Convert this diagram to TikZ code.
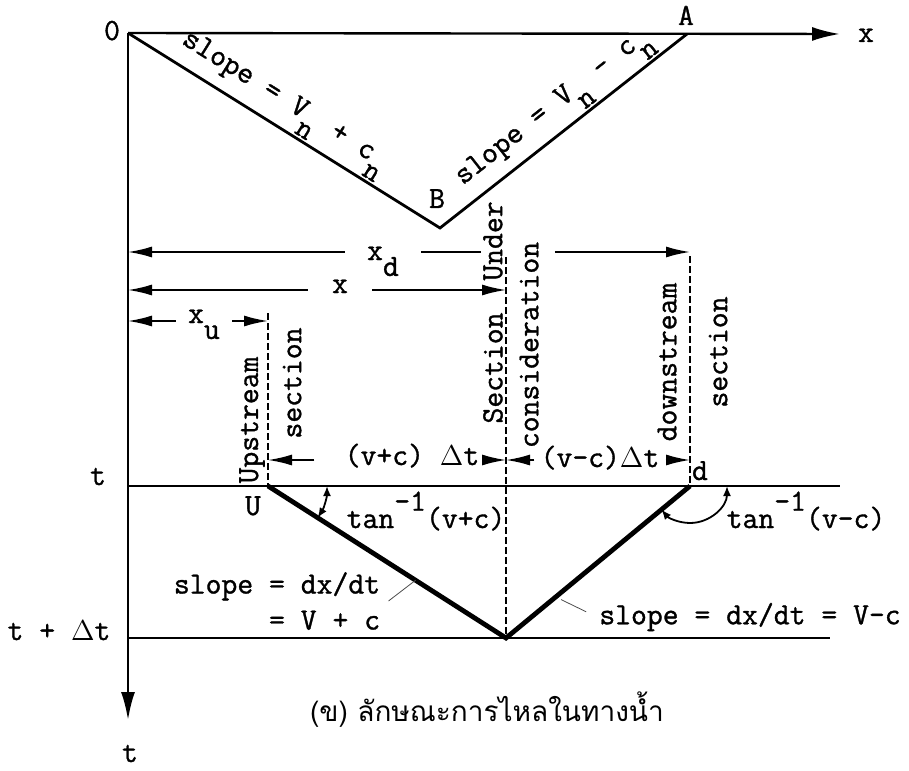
\documentclass[tikz,border=0pt]{standalone}
\usepackage{fontspec}
\setmainfont{Latin Modern Mono}[FakeBold=1.1]
\newfontfamily\thaifont[Script=Thai]{Loma}
\usetikzlibrary{arrows.meta,positioning,calc}
\newcommand{\lowsub}[1]{\raisebox{-1.2ex}{#1}}
\newcommand{\highsup}[1]{\raisebox{1.3ex}{#1}}
\newcommand{\dlt}{$\Delta$}
\tikzset{
  lbl/.style={font=\fontsize{15.4}{18}\selectfont,inner sep=1pt},
  vlbl/.style={lbl,rotate=90},
  dimlbl/.style={lbl,anchor=base,inner xsep=11pt},
  axis/.style={line width=1.2pt,-{Latex[length=14pt,width=7pt]}},
  dimarrow/.style={line width=0.9pt,-{Latex[length=12pt,width=5.5pt]}},
  secline/.style={line width=0.8pt,dash pattern=on 3.5pt off 1.5pt},
  charline/.style={line width=2.4pt,line join=miter},
  waveline/.style={line width=1.4pt},
  tline/.style={line width=1.1pt},
  anglearc/.style={line width=0.9pt,{Latex[length=5pt,width=4pt]}-{Latex[length=5pt,width=4pt]}},
  leader/.style={line width=0.4pt,black!70},
}
\begin{document}
\begin{tikzpicture}[x=0.5pt,y=-0.5pt]
  \useasboundingbox (0,0) rectangle (909,770);
  % points of the x-t plane
  \coordinate (O) at (128,33);
  \coordinate (A) at (687,34);
  \coordinate (B) at (440,228);
  \coordinate (U) at (268,486);
  \coordinate (D) at (690,486);
  \coordinate (M) at (506,638);
  \coordinate (xend) at (840,34);
  \coordinate (tend) at (128,720);
  \coordinate (tR) at (840,486);
  \coordinate (dtR) at (830,638);
  \coordinate (Utop) at (268,313);
  \coordinate (Mtop) at (506,257);
  \coordinate (Dtop) at (690,256);
  % heights of the dimension lines
  \coordinate (xdL) at (128,252);
  \coordinate (xL) at (128,290);
  \coordinate (xuL) at (128,321);
  \coordinate (dtL) at (128,460);

  % axes
  \draw[axis] (O) -- (xend);
  \draw[axis] (O) -- (tend);
  \node[lbl,anchor=base] (xlab) at (866,42) {x};
  \node[lbl,anchor=base] (tlab) at (130,762) {t};
  \node[lbl,anchor=base] (olab) at (112,40) {0};

  % time levels
  \draw[tline] (U -| O) -- (tR);
  \draw[tline] (M -| O) -- (dtR);
  \node[lbl,anchor=base] (t1) at (98,485) {t};
  \node[lbl,anchor=base] (t2) at (59,640) {t + \dlt t};

  % sections
  \draw[secline] (Utop) -- (U);
  \draw[secline] (Mtop) -- (M);
  \draw[secline] (Dtop) -- (D);
  \node[vlbl] (up1) at (252,420) {Upstream};
  \node[vlbl] (up2) at (292,383) {section};
  \node[vlbl] (under) at (493,241) {Under};
  \node[vlbl] (sec) at (493,368) {Section};
  \node[vlbl] (consid) at (529,345) {consideration};
  \node[vlbl] (down1) at (667,362) {downstream};
  \node[vlbl] (down2) at (718,352) {section};

  % characteristics through 0, B, A
  \draw[waveline] (O)
    -- node[lbl,sloped,above,pos=0.46] (sl0) {slope = V\lowsub{n} + c\lowsub{n}} (B)
    -- node[lbl,sloped,above,pos=0.52] (sl1) {slope = V\lowsub{n} - c\lowsub{n}} (A);
  \node[lbl,anchor=base] (alab) at (686,25) {A};
  \node[lbl,anchor=base] (blab) at (437,208) {B};

  % distances from 0
  \node[dimlbl] (xd) at (383,260) {x\lowsub{d}};
  \draw[dimarrow] (xd.west |- xdL) -- (xdL);
  \draw[line width=0.9pt] (xd.east |- xdL) -- (under.north |- xdL);
  \draw[dimarrow] ($(consid.south |- xdL)+(14,0)$) -- (Dtop |- xdL);
  \node[dimlbl,inner xsep=12pt] (xm) at (340,293) {x};
  \draw[dimarrow] (xm.west |- xL) -- (xL);
  \draw[dimarrow] (xm.east |- xL) -- (Mtop |- xL);
  \node[dimlbl,inner xsep=6pt] (xu) at (204,323) {x\lowsub{u}};
  \draw[dimarrow] (xu.west |- xuL) -- (xuL);
  \draw[dimarrow] (xu.east |- xuL) -- (Utop |- xuL);

  % distances travelled in dt
  \node[dimlbl,inner xsep=2pt] (vpc) at (412,465) {(v+c) \dlt t};
  \draw[dimarrow] ($(vpc.west |- dtL)+(-26,0)$) -- (U |- dtL);
  \draw[dimarrow] (vpc.east |- dtL) -- (M |- dtL);
  \node[dimlbl,inner xsep=3pt] (vmc) at (600,467) {(v-c)\dlt t};
  \draw[dimarrow] (vmc.west |- dtL) -- (M |- dtL);
  \draw[dimarrow] (vmc.east |- dtL) -- (D |- dtL);

  % characteristics U-M-d
  \draw[charline] (U) -- (M) -- (D);
  \node[lbl,anchor=base] (ulab) at (253,515) {U};
  \node[lbl,anchor=base] (dlab) at (700,480) {d};

  % angles
  \draw[anglearc] (U) ++(0:59) arc[start angle=0,end angle=32.6,radius=59];
  \draw[anglearc] (D) ++(0:37) arc[start angle=0,end angle=140.4,radius=37];
  \node[lbl,anchor=base] (ang1) at (426,528) {tan\highsup{-1}(v+c)};
  \node[lbl,anchor=base] (ang2) at (806,528) {tan\highsup{-1}(v-c)};

  % slopes
  \node[lbl,align=right,inner sep=4pt] (sp1) at (277,601) {slope = dx/dt\\= V + c};
  \draw[leader] (sp1.east) -- ($(U)!0.62!(M)$);
  \node[lbl] (sp2) at (750,617) {slope = dx/dt = V-c};
  \draw[leader,shorten <=6pt,shorten >=3pt] (sp2.west) -- ($(D)!0.73!(M)$);

  % caption
  \node[font=\thaifont\fontsize{14}{16}\selectfont] (cap) at (487,710) {(ข) ลักษณะการไหลในทางน้ำ};
\end{tikzpicture}
\end{document}
